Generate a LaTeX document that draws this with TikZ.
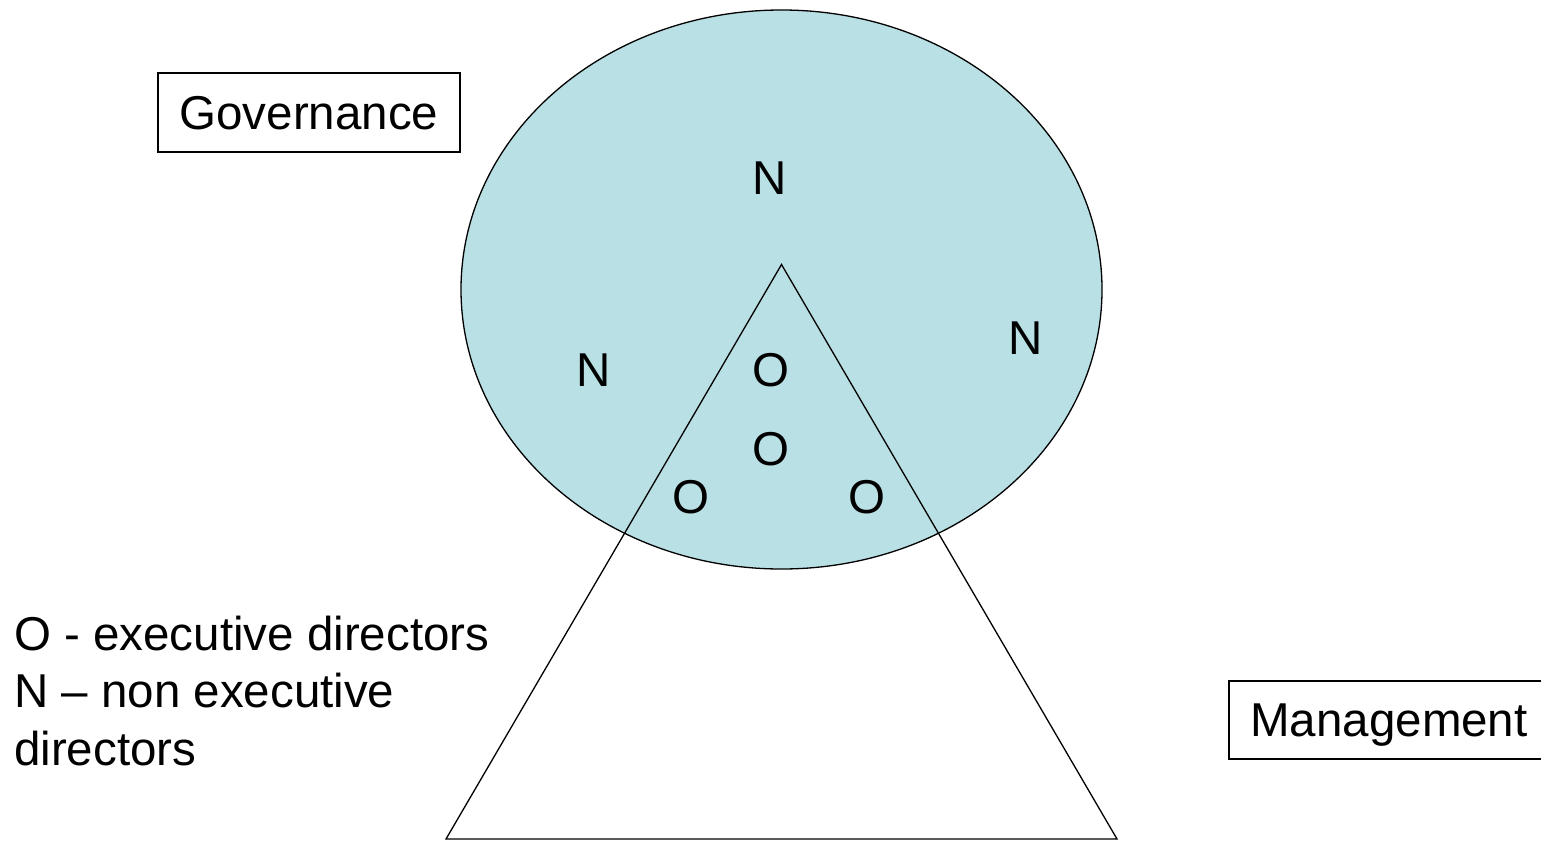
\documentclass[tikz,border=0pt]{standalone}
\usepackage{fontspec}
\setmainfont{Liberation Sans}
\definecolor{govfill}{RGB}{185,224,228}
\tikzset{
  lbl/.style={font=\fontsize{47.5}{57.5}\selectfont, inner sep=0pt},
  boxed/.style={draw=black, line width=1.4pt, font=\fontsize{47.5}{57.5}\selectfont, inner sep=0pt, text depth=0pt},
  shapeline/.style={draw=black, line width=1.3pt, line join=miter}
}
\begin{document}
\begin{tikzpicture}[x=1pt,y=-1pt]
\useasboundingbox (0,0) rectangle (1541,841);
% governance ellipse
\path[shapeline, fill=govfill] (781.5,289.5) ellipse [x radius=320.5, y radius=279.5];
% management triangle
\coordinate (apex) at (781.5,264.5);
\coordinate (bl) at (446,839);
\coordinate (br) at (1117,839);
\draw[shapeline] (apex) -- (bl) -- (br) -- cycle;
% letters
\node[lbl] (n1) at (770,178) {N};
\node[lbl] (n2) at (594,370) {N};
\node[lbl] (n3) at (1026,338) {N};
\node[lbl] (o1) at (771,370) {O};
\node[lbl] (o2) at (771,449) {O};
\node[lbl] (o3) at (691,497) {O};
\node[lbl] (o4) at (867,497) {O};
% boxes
\node[boxed, minimum width=302pt, minimum height=79pt] (gov) at (309,112.5) {Governance};
\node[boxed, minimum width=320pt, minimum height=78pt] (mgmt) at (1389,720) {Management};
% legend
\node[lbl, anchor=base west, align=left] (legend) at (14,765) {O - executive directors\\N -- non executive\\directors};
\end{tikzpicture}
\end{document}
